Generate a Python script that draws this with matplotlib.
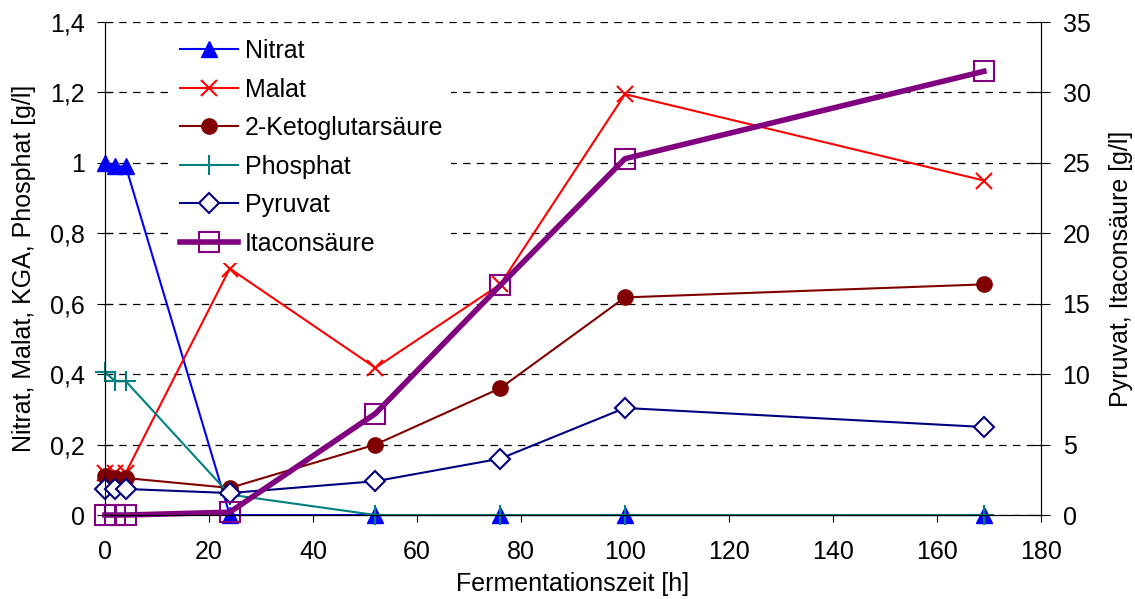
import matplotlib.pyplot as plt
from matplotlib.ticker import FuncFormatter, MultipleLocator

plt.rcParams['font.family'] = ['Liberation Sans', 'DejaVu Sans']

zeit = [0, 2, 4, 24, 52, 76, 100, 169]

nitrat = [1.0, 0.99, 0.99, 0.0, 0.0, 0.0, 0.0, 0.0]
malat = [0.12, 0.12, 0.12, 0.70, 0.418, 0.655, 1.195, 0.95]
kga = [0.11, 0.105, 0.105, 0.077, 0.2, 0.36, 0.618, 0.655]
phosphat = [0.405, 0.38, 0.38, 0.058, 0.0, 0.0, 0.0, 0.0]

pyruvat = [1.85, 1.85, 1.85, 1.56, 2.4, 4.0, 7.6, 6.25]
itacon = [0.0, 0.0, 0.0, 0.2, 7.2, 16.3, 25.3, 31.5]

fs = 18

fig = plt.figure(figsize=(11.35, 5.99), dpi=100)
ax = fig.add_axes([0.0925, 0.1402, 0.8247, 0.823])
ax2 = ax.twinx()

ax.plot(zeit, nitrat, color='#0000FF', marker='^', ms=11, lw=1.5, clip_on=False, label='Nitrat')
ax.plot(zeit, malat, color='#FF0000', marker='x', ms=11, mew=1.5, lw=1.5, clip_on=False, label='Malat')
ax.plot(zeit, kga, color='#800000', marker='o', ms=11, lw=1.5, clip_on=False, label='2-Ketoglutarsäure')
ax.plot(zeit, phosphat, color='#008080', marker='+', ms=15, mew=1.5, lw=1.5, clip_on=False, label='Phosphat')
ax2.plot(zeit, pyruvat, color='#000080', marker='D', ms=10, mfc='white', mew=1.5, lw=1.5, clip_on=False, label='Pyruvat')
ax2.plot(zeit, itacon, color='#800080', marker='s', ms=14, mfc='none', mew=1.5, lw=4, clip_on=False, label='Itaconsäure')

ax.set_xlim(0, 180)
ax.set_ylim(0, 1.4)
ax2.set_ylim(0, 35)
ax.xaxis.set_major_locator(MultipleLocator(20))
ax.yaxis.set_major_locator(MultipleLocator(0.2))
ax2.yaxis.set_major_locator(MultipleLocator(5))
ax.yaxis.set_major_formatter(FuncFormatter(lambda v, p: ('%g' % round(v, 1)).replace('.', ',')))

ax.grid(axis='y', color='black', ls=(0, (6, 5)), lw=0.9)
ax.spines['top'].set_visible(False)
ax2.spines['top'].set_visible(False)
ax.tick_params(axis='x', direction='out', labelsize=fs, length=5, pad=13)
ax.tick_params(axis='y', direction='inout', labelsize=fs, length=11, pad=9)
ax2.tick_params(axis='y', direction='inout', labelsize=fs, length=13, pad=9)

ax.set_xlabel('Fermentationszeit [h]', fontsize=fs, labelpad=6)
ax.set_ylabel('Nitrat, Malat, KGA, Phosphat [g/l]', fontsize=fs, labelpad=10)
ax2.set_ylabel('Pyruvat, Itaconsäure [g/l]', fontsize=fs, labelpad=13)

h1, l1 = ax.get_legend_handles_labels()
h2, l2 = ax2.get_legend_handles_labels()
leg = ax2.legend(h1 + h2, l1 + l2, loc='upper left', bbox_to_anchor=(0.059, 1.006),
                 fontsize=fs, frameon=True, edgecolor='none', fancybox=False,
                 handlelength=2.3, handletextpad=0.3, labelspacing=0.58, borderpad=0.3)
leg.get_frame().set_alpha(1)

fig.savefig('out.png', dpi=100)
